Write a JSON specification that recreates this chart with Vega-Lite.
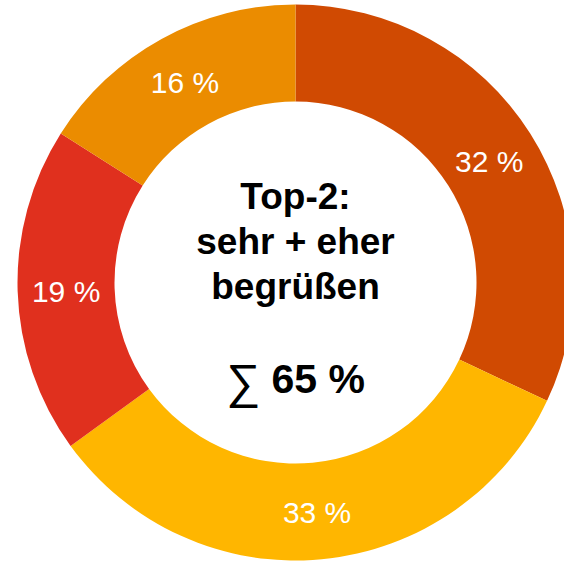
{
  "$schema": "https://vega.github.io/schema/vega-lite/v6.json",
  "width": 591,
  "height": 565,
  "autosize": "none",
  "padding": 0,
  "background": "white",
  "view": {"stroke": null},
  "datasets": {
    "segmente": [
      {"kategorie": "sehr begrüßen", "anteil": 32, "reihenfolge": 1, "label": "32 %"},
      {"kategorie": "eher begrüßen", "anteil": 33, "reihenfolge": 2, "label": "33 %"},
      {"kategorie": "eher nicht begrüßen", "anteil": 19, "reihenfolge": 3, "label": "19 %"},
      {"kategorie": "gar nicht begrüßen", "anteil": 16, "reihenfolge": 4, "label": "16 %"}
    ],
    "titel": [{"text": "Top-2:\nsehr + eher\nbegrüßen"}],
    "summenzeichen": [{"text": "∑"}],
    "summe": [{"text": "65 %"}]
  },
  "layer": [
    {
      "data": {"name": "segmente"},
      "mark": {"type": "arc", "outerRadius": 278, "innerRadius": 181},
      "encoding": {
        "theta": {"field": "anteil", "type": "quantitative", "stack": true},
        "order": {"field": "reihenfolge", "type": "quantitative"},
        "color": {
          "field": "kategorie",
          "type": "nominal",
          "scale": {
            "domain": ["sehr begrüßen", "eher begrüßen", "eher nicht begrüßen", "gar nicht begrüßen"],
            "range": ["#D04A02", "#FFB600", "#E0301E", "#EB8C00"]
          },
          "legend": null
        }
      }
    },
    {
      "data": {"name": "segmente"},
      "mark": {"type": "text", "radius": 229.5, "font": "Liberation Sans", "fontSize": 30, "fill": "white", "align": "center", "baseline": "middle", "dy": 3},
      "encoding": {
        "theta": {"field": "anteil", "type": "quantitative", "stack": true},
        "order": {"field": "reihenfolge", "type": "quantitative"},
        "text": {"field": "label", "type": "nominal"}
      }
    },
    {
      "data": {"name": "titel"},
      "mark": {"type": "text", "font": "Liberation Sans", "fontWeight": "bold", "fontSize": 37, "lineBreak": "\n", "lineHeight": 45, "fill": "black", "align": "center", "baseline": "middle", "dy": -85},
      "encoding": {"text": {"field": "text", "type": "nominal"}}
    },
    {
      "data": {"name": "summenzeichen"},
      "mark": {"type": "text", "font": "Liberation Sans", "fontWeight": "normal", "fontSize": 48, "fill": "black", "align": "right", "baseline": "middle", "dx": -35, "dy": 101},
      "encoding": {"text": {"field": "text", "type": "nominal"}}
    },
    {
      "data": {"name": "summe"},
      "mark": {"type": "text", "font": "Liberation Sans", "fontWeight": "bold", "fontSize": 41, "fill": "black", "align": "left", "baseline": "middle", "dx": -24, "dy": 98},
      "encoding": {"text": {"field": "text", "type": "nominal"}}
    }
  ]
}
